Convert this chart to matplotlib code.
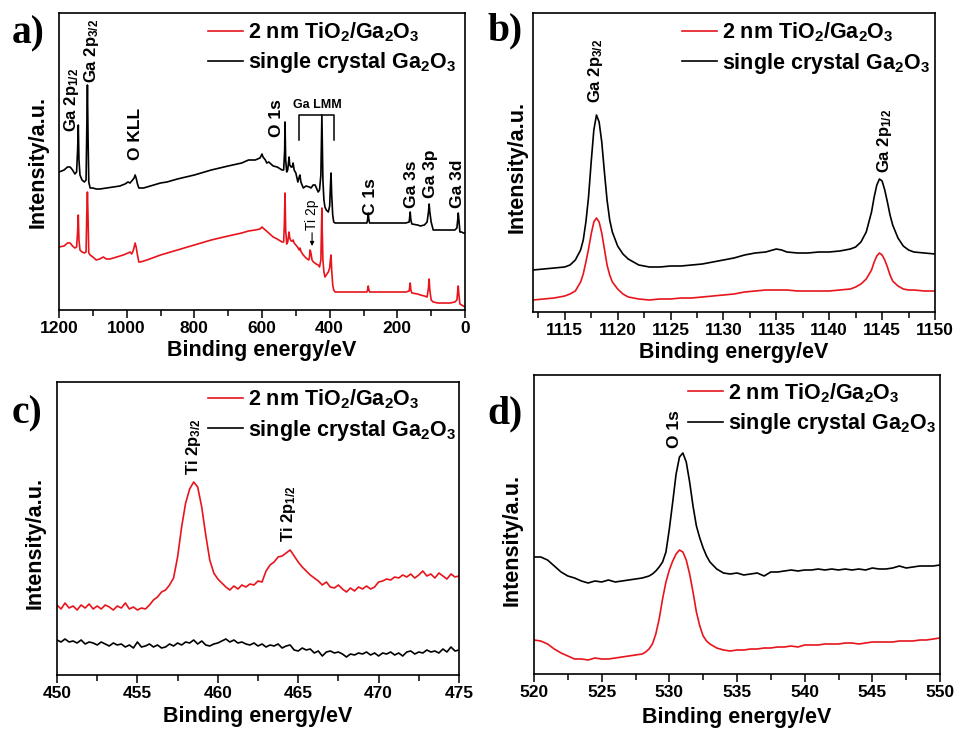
import matplotlib
matplotlib.use("Agg")
import matplotlib.pyplot as plt
from matplotlib.ticker import MultipleLocator, NullLocator

plt.rcParams['font.family'] = ['Liberation Sans', 'DejaVu Sans']
plt.rcParams['mathtext.fontset'] = 'custom'
plt.rcParams['mathtext.rm'] = 'Liberation Sans:bold'
plt.rcParams['mathtext.bf'] = 'Liberation Sans:bold'
plt.rcParams['mathtext.it'] = 'Liberation Sans:bold'
plt.rcParams['mathtext.default'] = 'rm'

RED = '#e8141c'
LBL_RED = '2 nm TiO$_2$/Ga$_2$O$_3$'
LBL_BLK = 'single crystal Ga$_2$O$_3$'

# ---------------- panel a: survey ----------------
a_E_blk = [1200, 1185, 1175, 1167, 1160, 1153, 1148, 1145, 1143, 1141, 1138, 1132, 1125, 1120, 1118, 1116, 1114, 1112,
           1108, 1100, 1090, 1079, 1060, 1040, 1020, 1005, 996, 990, 985, 978, 975, 972, 968, 964, 950, 930, 900, 881,
           850, 800, 750, 700, 660, 640, 620, 606, 600, 597, 590, 586, 580, 567, 555, 541, 536, 533, 532, 530, 527,
           524, 521, 520, 518, 514, 511, 508, 505, 500, 494, 490, 488, 485, 478, 470, 460, 455, 449, 443, 438, 434,
           430, 426, 424, 423, 422, 420, 417, 414, 410, 404, 400, 398, 396, 394, 391, 388, 384, 360, 330, 300, 290,
           288, 286, 284, 282, 250, 200, 175, 165, 162, 160, 157, 140, 132, 120, 112, 108, 106, 104, 100, 94, 80, 60,
           44, 30, 24, 21, 20, 18, 15, 10, 5, 0]
a_I_blk = [138, 140, 143, 143, 140, 136, 138, 160, 185, 150, 135, 130, 128, 130, 180, 225, 170, 128,
           122, 122, 121, 121, 122, 123, 124, 126, 128, 127, 129, 132, 135, 132, 126, 122, 122, 124, 127, 128,
           131, 135, 140, 144, 147, 150, 150, 152, 156, 153, 150, 147, 148, 144, 143, 140, 140, 160, 188, 150, 138,
           140, 150, 153, 145, 143, 143, 147, 140, 137, 128, 133, 135, 128, 122, 124, 123, 122, 125, 125, 121, 118,
           120, 135, 175, 195, 175, 130, 110, 103, 100, 98, 104, 122, 137, 115, 95, 88, 87, 87, 87, 87, 87,
           90, 97, 90, 87, 87, 87, 87, 88, 98, 90, 86, 85, 84, 85, 88, 98, 106, 98, 88, 80, 80, 80,
           80, 80, 82, 92, 97, 90, 78, 78, 77, 77]
a_E_red = [1200, 1185, 1175, 1167, 1160, 1153, 1148, 1145, 1143, 1141, 1138, 1132, 1125, 1120, 1118, 1116, 1114, 1112,
           1108, 1100, 1090, 1080, 1069, 1060, 1049, 1030, 1010, 996, 990, 985, 980, 977, 975, 972, 968, 964, 960, 940,
           900, 850, 800, 750, 700, 660, 640, 620, 606, 600, 597, 590, 580, 567, 555, 541, 536, 534, 532, 530, 527,
           524, 521, 520, 518, 514, 510, 508, 505, 500, 495, 490, 488, 484, 478, 470, 462, 460, 458, 456, 452, 448,
           440, 434, 430, 426, 424, 423, 422, 420, 417, 414, 410, 404, 400, 398, 396, 394, 391, 388, 384, 360, 330,
           300, 290, 288, 286, 284, 282, 250, 200, 175, 165, 162, 160, 157, 140, 132, 120, 112, 108, 106, 104, 100,
           94, 80, 60, 44, 30, 24, 21, 20, 18, 15, 10, 5, 0]
a_I_red = [63, 64, 67, 67, 64, 62, 63, 78, 95, 70, 60, 58, 57, 58, 95, 118, 90, 57,
           55, 53, 50, 51, 53, 51, 51, 53, 55, 57, 58, 56, 60, 64, 67, 63, 55, 48, 48, 50,
           55, 60, 65, 70, 74, 77, 79, 80, 81, 83, 82, 80, 77, 73, 71, 68, 68, 85, 117, 80, 66,
           68, 75, 78, 72, 69, 69, 70, 67, 65, 63, 60, 62, 58, 55, 52, 50, 52, 60, 58, 50, 48,
           46, 45, 43, 50, 85, 102, 80, 50, 38, 33, 35, 38, 42, 50, 55, 40, 25, 20, 18, 18, 18,
           18, 18, 20, 24, 20, 18, 18, 18, 18, 19, 27, 20, 17, 16, 15, 14, 13, 22, 31, 20, 10,
           8, 7, 7, 7, 8, 10, 20, 24, 15, 6, 5, 4, 3]
a_ticks = [0, 200, 400, 600, 800, 1000, 1200]
LMM_BRACKET_E = [490.6, 490.6, 387, 387]
LMM_BRACKET_I = [170, 195, 195, 170]

# ---------------- panel b: Ga 2p ----------------
b_E = [1112, 1113, 1114, 1115, 1115.5, 1116, 1116.5, 1116.75, 1117, 1117.25, 1117.5, 1117.75, 1118, 1118.25, 1118.5,
       1118.75, 1119, 1119.25, 1119.5, 1120, 1120.5, 1121, 1121.5, 1122, 1123, 1124, 1125, 1126, 1127, 1128, 1129,
       1130, 1131, 1132, 1133, 1134, 1135, 1135.5, 1136, 1137, 1138, 1139, 1140, 1141, 1142, 1142.5, 1143, 1143.5,
       1144, 1144.25, 1144.5, 1144.75, 1145, 1145.25, 1145.5, 1145.75, 1146, 1146.5, 1147, 1147.5, 1148, 1149, 1150]
b_I_blk = [42, 43, 44, 45, 47, 52, 62, 72, 90, 115, 150, 182, 197, 190, 170,
           140, 112, 92, 80, 66, 58, 53, 50, 47, 45, 45, 46, 46, 47, 48, 50,
           52, 54, 57, 59, 60, 63, 62, 60, 59, 59, 60, 60, 61, 63, 65, 70, 80,
           100, 115, 127, 133, 131, 122, 110, 97, 87, 74, 66, 62, 60, 59, 58]
b_I_red = [12, 13, 14, 16, 18, 21, 30, 38, 50, 63, 78, 90, 94, 90, 79,
           63, 47, 37, 30, 23, 18, 15, 14, 13, 12, 13, 13, 14, 14, 15, 16,
           17, 18, 20, 21, 22, 22, 22, 22, 21, 21, 21, 21, 22, 23, 25, 28, 33,
           42, 50, 56, 59, 57, 52, 45, 37, 31, 26, 23, 22, 22, 21, 21]
b_ticks = [1115, 1120, 1125, 1130, 1135, 1140, 1145, 1150]

# ---------------- panel c: Ti 2p ----------------
c_E = [450 + 0.25 * k for k in range(101)]
c_I_red = [70, 66, 72, 67, 69, 65, 70, 67, 71, 66, 69, 66, 70, 68, 65, 69, 67, 72, 66, 68,
           65, 67, 66, 70, 75, 78, 83, 85, 90, 97, 118, 148, 172, 186, 193, 188, 168, 140, 115, 102,
           96, 92, 88, 85, 89, 86, 90, 88, 91, 90, 94, 93, 104, 110, 113, 118, 119, 122, 125, 119,
           113, 108, 104, 100, 97, 94, 90, 93, 88, 87, 90, 86, 83, 87, 84, 88, 86, 89, 86, 88,
           93, 94, 96, 95, 98, 97, 100, 98, 101, 97, 100, 104, 99, 101, 97, 102, 99, 96, 101, 98, 99]
c_I_blk = [35, 33, 36, 33, 34, 32, 35, 31, 33, 32, 30, 33, 31, 29, 32, 30, 31, 28, 30, 27,
           33, 28, 29, 31, 28, 30, 27, 28, 31, 29, 32, 30, 33, 32, 35, 31, 34, 30, 29, 31,
           32, 34, 36, 33, 35, 32, 33, 31, 30, 32, 29, 31, 28, 30, 29, 31, 27, 29, 30, 25,
           24, 27, 25, 26, 22, 24, 19, 23, 24, 22, 23, 21, 18, 21, 20, 22, 21, 23, 20, 22,
           19, 22, 21, 23, 20, 22, 19, 23, 24, 21, 23, 22, 25, 23, 24, 22, 26, 23, 28, 24, 25]
c_ticks = [450, 455, 460, 465, 470, 475]

# ---------------- panel d: O 1s ----------------
d_E = [520, 520.5, 521, 521.5, 522, 522.5, 523, 523.5, 524, 524.5, 525, 525.5, 526, 526.5, 527, 527.5, 528, 528.25,
       528.5, 528.75, 529, 529.25, 529.5, 529.75, 530, 530.25, 530.5, 530.75, 531, 531.25, 531.5, 531.75, 532,
       532.25, 532.5, 532.75, 533, 533.5, 534, 534.5, 535, 535.5, 536, 536.5, 537, 537.5, 538, 538.5, 539, 539.5,
       540, 540.5, 541, 541.5, 542, 542.5, 543, 543.5, 544, 544.5, 545, 545.5, 546, 546.5, 547, 547.5, 548, 548.5,
       549, 549.5, 550]
d_I_blk = [117, 117, 114, 108, 102, 98, 96, 93, 91, 93, 92, 94, 92, 93, 94, 95, 96, 97,
           98, 100, 103, 107, 112, 122, 145, 172, 200, 217, 221, 212, 192, 168, 148,
           136, 126, 118, 112, 105, 101, 100, 101, 99, 100, 101, 98, 102, 102, 103, 104, 103,
           104, 104, 105, 104, 105, 104, 105, 104, 105, 104, 106, 105, 105, 106, 108, 106, 107, 108,
           108, 108, 109]
d_I_red = [34, 33, 30, 25, 21, 18, 15, 15, 14, 16, 15, 15, 16, 17, 18, 19, 20, 22,
           25, 30, 40, 55, 75, 92, 104, 113, 120, 124, 122, 114, 100, 82, 62,
           48, 38, 33, 30, 26, 24, 23, 24, 24, 25, 25, 26, 26, 27, 27, 28, 27,
           29, 29, 29, 30, 30, 30, 31, 31, 30, 31, 32, 32, 32, 32, 33, 33, 33, 34,
           34, 35, 36]
d_ticks = [520, 525, 530, 535, 540, 545, 550]

W, H = 956, 731
fig = plt.figure(figsize=(W / 100, H / 100), dpi=100)


def make_ax(l, r, t, b):
    return fig.add_axes([l / W, 1 - b / H, (r - l) / W, (b - t) / H])


def style(ax, ticks, minor, xlim, ylim, xlab_y, ylab_x, ylab_y, leg_x, leg_y):
    ax.set_xlim(*xlim)
    ax.set_ylim(*ylim)
    ax.set_xticks(ticks)
    ax.xaxis.set_minor_locator(MultipleLocator(minor))
    ax.yaxis.set_major_locator(NullLocator())
    ax.tick_params(axis='x', which='major', direction='out', length=6, width=1.1, pad=2,
                   labelsize=12.5)
    ax.tick_params(axis='x', which='minor', direction='out', length=4, width=1.1)
    for lab in ax.get_xticklabels():
        lab.set_fontweight('bold')
    for s in ax.spines.values():
        s.set_linewidth(1.2)
    ax.set_xlabel('Binding energy/eV', fontsize=15.5, fontweight='bold')
    ax.set_ylabel('Intensity/a.u.', fontsize=15.5, fontweight='bold')
    ax.xaxis.label.set_va('center')
    ax.yaxis.label.set_va('center')
    ax.xaxis.set_label_coords(0.5, xlab_y)
    ax.yaxis.set_label_coords(ylab_x, ylab_y)
    leg = ax.legend(loc='upper left', bbox_to_anchor=(leg_x, leg_y), frameon=False,
                    fontsize=15.5, handlelength=1.63, handletextpad=0.23, labelspacing=0.3,
                    borderpad=0, borderaxespad=0)
    for t in leg.get_texts():
        t.set_fontweight('bold')


def vlabel(ax, e, i, s, fs=12):
    ax.text(e, i, s, rotation=90, ha='center', va='bottom', fontsize=fs, fontweight='bold')


# panel a
ax = make_ax(59, 465, 13, 310)
ax.plot(a_E_red, a_I_red, color=RED, lw=1.2, label=LBL_RED)
ax.plot(a_E_blk, a_I_blk, color='black', lw=1.2, label=LBL_BLK)
style(ax, a_ticks, 100, (1200, 0), (0, 297), -0.138, -0.052, 0.5, 0.367, 0.975)
ax.plot(LMM_BRACKET_E, LMM_BRACKET_I, color='black', lw=1.1)
ax.text(437, 199, 'Ga LMM', fontsize=9, fontweight='bold', ha='center', va='bottom')
ann_a = [(1161.6, 178, 'Ga 2p$_{1/2}$', 12), (1102.5, 227, 'Ga 2p$_{3/2}$', 12),
         (975, 150, 'O KLL', 12.5), (558.6, 173, 'O 1s', 12.5), (280.7, 95, 'C 1s', 12.5),
         (159.5, 102, 'Ga 3s', 12.5), (103, 112, 'Ga 3p', 12.5), (23.5, 102, 'Ga 3d', 12.5)]
for e, i, s, fs in ann_a:
    vlabel(ax, e, i, s, fs)
ax.annotate('Ti 2p', xy=(452, 64), xytext=(452, 80), rotation=90, ha='center', va='bottom',
            fontsize=10, arrowprops=dict(arrowstyle='-|>', lw=0.8, color='black',
                                         mutation_scale=6, shrinkA=0, shrinkB=0))

# panel b
ax = make_ax(533, 935, 13, 312)
ax.plot(b_E, b_I_red, color=RED, lw=1.2, label=LBL_RED)
ax.plot(b_E, b_I_blk, color='black', lw=1.2, label=LBL_BLK)
style(ax, b_ticks, 2.5, (1112, 1150), (0, 299), -0.134, -0.040, 0.485, 0.371, 0.975)
vlabel(ax, 1117.9, 209, 'Ga 2p$_{3/2}$')
vlabel(ax, 1145.2, 139, 'Ga 2p$_{1/2}$')

# panel c
ax = make_ax(57, 459, 382, 675)
ax.plot(c_E, c_I_red, color=RED, lw=1.2, label=LBL_RED)
ax.plot(c_E, c_I_blk, color='black', lw=1.2, label=LBL_BLK)
style(ax, c_ticks, 2.5, (450, 475), (0, 293), -0.14, -0.055, 0.45, 0.376, 0.98)
vlabel(ax, 458.5, 200, 'Ti 2p$_{3/2}$')
vlabel(ax, 464.4, 133, 'Ti 2p$_{1/2}$')

# panel d
ax = make_ax(534, 940, 375, 674)
ax.plot(d_E, d_I_red, color=RED, lw=1.2, label=LBL_RED)
ax.plot(d_E, d_I_blk, color='black', lw=1.2, label=LBL_BLK)
style(ax, d_ticks, 2.5, (520, 550), (0, 299), -0.147, -0.054, 0.448, 0.379, 0.98)
vlabel(ax, 530.4, 226, 'O 1s', 12.5)

# panel letters
for x, y, s in [(12, 43, 'a)'), (487, 40, 'b)'), (12, 423, 'c)'), (487, 423, 'd)')]:
    fig.text(x / W, 1 - y / H, s, fontsize=28.5, fontweight='bold', family='Liberation Serif',
             ha='left', va='baseline')

fig.savefig('out.png', dpi=100)
